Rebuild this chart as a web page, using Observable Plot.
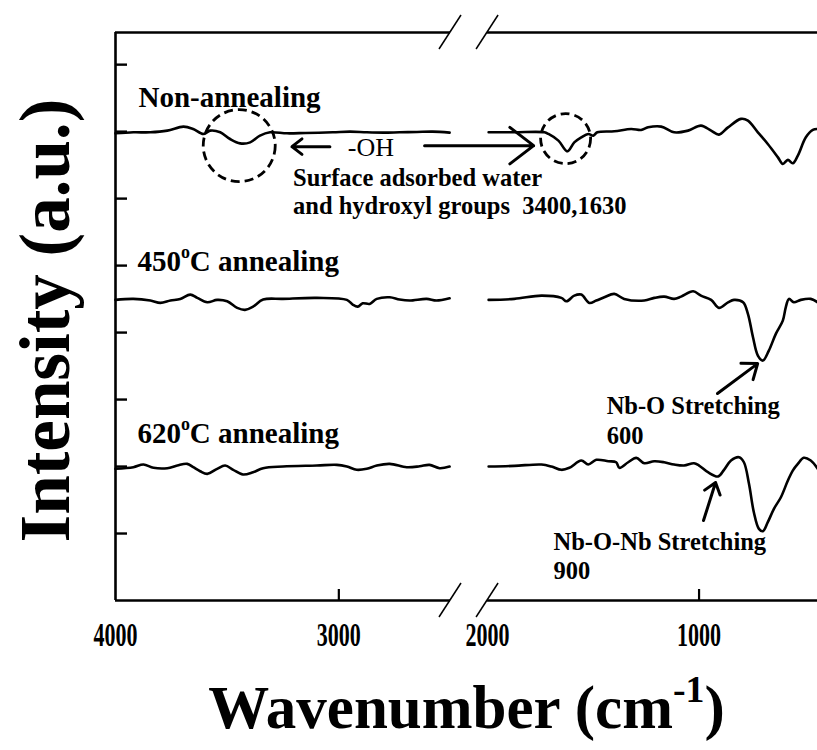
<!DOCTYPE html>
<html><head><meta charset="utf-8">
<script src="https://cdn.jsdelivr.net/npm/d3@7"></script>
<script src="https://cdn.jsdelivr.net/npm/@observablehq/plot@0.6"></script>
<style>
html,body{margin:0;padding:0;background:#fff;}
#chart svg{display:block;}
</style></head><body><div id="chart"></div>
<script>
// ---------- data ----------
const xTicks = [4000, 3000, 2000, 1000];
const yTicks = [1, 2, 3, 4, 5, 6, 7, 8];
const axisBreak = [2500, 2000];          // wavenumbers where the x axis is broken
const xExtent = [4000, 440];
const yExtent = [0, 8.48];

const seriesNames = ["Non-annealing", "450°C annealing", "620°C annealing"];
const seriesLabelAt = [[3897, 7.373], [3902, 4.925], [3902, 2.358]];

const nonAnnealLeft = [[4000,6.975],[3920,6.99],[3844,6.99],[3768,7.015],[3696,7.075],[3652,7.04],[3607,6.965],[3576,7.015],[3531,6.99],[3487,6.89],[3442,6.825],[3397,6.84],[3353,6.94],[3308,6.99],[3232,6.975],[3150,6.98],[3027,6.99],[2950,7.0],[2875,6.99],[2800,6.985],[2728,6.99],[2650,6.995],[2580,7.0],[2504,6.985]];
const nonAnnealRight = [[1995,6.99],[1873,6.99],[1731,6.99],[1712,6.965],[1665,6.866],[1623,6.706],[1590,6.84],[1557,6.915],[1524,6.965],[1500,6.94],[1481,6.99],[1401,7.005],[1321,7.04],[1274,7.025],[1241,7.064],[1179,7.075],[1118,6.99],[1052,7.015],[991,7.09],[943,7.015],[906,6.955],[863,7.064],[802,7.19],[769,7.164],[722,6.99],[675,6.816],[627,6.616],[604,6.518],[580,6.578],[557,6.527],[533,6.642],[495,6.915],[462,7.025],[439,7.04]];
const anneal450Left = [[4000,4.488],[3920,4.503],[3844,4.478],[3799,4.443],[3754,4.478],[3710,4.503],[3665,4.567],[3634,4.518],[3589,4.452],[3545,4.488],[3500,4.467],[3455,4.369],[3420,4.339],[3384,4.388],[3339,4.493],[3250,4.503],[3098,4.518],[2964,4.488],[2938,4.418],[2915,4.388],[2893,4.437],[2862,4.428],[2830,4.503],[2772,4.527],[2728,4.493],[2683,4.478],[2607,4.503],[2563,4.478],[2504,4.512]];
const anneal450Right = [[1995,4.488],[1873,4.503],[1745,4.552],[1651,4.518],[1627,4.467],[1590,4.552],[1557,4.567],[1519,4.443],[1486,4.478],[1448,4.527],[1401,4.578],[1354,4.503],[1259,4.478],[1212,4.518],[1165,4.537],[1118,4.503],[1085,4.537],[1028,4.616],[991,4.552],[943,4.488],[906,4.369],[863,4.452],[835,4.488],[792,4.452],[769,4.279],[745,3.930],[722,3.657],[698,3.582],[670,3.731],[637,3.981],[604,4.179],[590,4.378],[575,4.503],[552,4.452],[519,4.488],[472,4.503],[439,4.452]];
const anneal620Left = [[4000,1.966],[3920,1.990],[3875,2.030],[3830,1.981],[3768,1.975],[3723,2.015],[3679,2.040],[3652,1.990],[3621,1.930],[3589,1.891],[3545,1.966],[3509,2.015],[3473,1.951],[3429,1.881],[3384,1.915],[3339,1.975],[3250,2.0],[3098,2.015],[3009,2.025],[2964,2.0],[2920,1.951],[2875,1.966],[2830,2.015],[2772,2.040],[2696,1.990],[2638,2.004],[2594,2.025],[2549,1.975],[2504,2.0]];
const anneal620Right = [[1995,2.0],[1873,2.010],[1745,2.030],[1698,2.0],[1651,1.951],[1613,1.981],[1557,2.090],[1524,2.030],[1486,2.100],[1429,2.079],[1392,2.064],[1377,1.981],[1335,2.064],[1297,2.130],[1259,2.049],[1212,2.079],[1165,2.064],[1118,2.030],[1071,2.015],[1024,2.049],[1000,2.015],[958,1.915],[910,1.851],[882,1.951],[849,2.090],[811,2.139],[788,2.064],[764,1.742],[741,1.318],[717,1.070],[698,1.034],[675,1.169],[646,1.369],[613,1.542],[580,1.791],[557,1.940],[533,2.040],[505,2.130],[472,2.090],[439,1.966]];

const noteTexts = ["Surface adsorbed water", "and hydroxyl groups\u00a0\u00a03400,1630", "Nb-O Stretching", "600", "Nb-O-Nb Stretching", "900"];
const noteAt = [[3205,6.194],[3205,5.776],[1437,2.791],[1437,2.343],[1688,0.761],[1688,0.328]];
const ohText = "-OH";
const ohAt = [2960, 6.642];
const arrowsFromTo = [[3040,6.776,3210,6.776],[2616,6.791,1782,6.791],[913,3.090,723,3.537],[979,1.194,922,1.761]];
const circleAt = [[3446,6.791],[1631,6.896]];
const circleRadius = [36, 25];

// ---------- broken-axis mapping (wavenumber -> axis units) ----------
const leftSpan = xExtent[0] - axisBreak[0];
const gapUnits = 166;        // width of the break, in left-segment units
const rightRatio = 0.947;    // right segment is drawn slightly more compressed
const brk = w => w >= axisBreak[0] ? xExtent[0] - w
  : w > axisBreak[1] ? leftSpan + gapUnits * (axisBreak[0] - w) / (axisBreak[0] - axisBreak[1])
  : leftSpan + gapUnits + (axisBreak[1] - w) * rightRatio;

// ---------- tables ----------
const segments = [
  [0, "L", nonAnnealLeft], [0, "R", nonAnnealRight],
  [1, "L", anneal450Left], [1, "R", anneal450Right],
  [2, "L", anneal620Left], [2, "R", anneal620Right]
];
const points = segments.flatMap(([s, side, arr]) => arr.map(([w, v]) => ({key: seriesNames[s] + side, w, v})));
const seriesLabels = seriesNames.map((t, i) => ({t, x: seriesLabelAt[i][0], y: seriesLabelAt[i][1]}));
const notes = noteTexts.map((t, i) => ({t, x: noteAt[i][0], y: noteAt[i][1]}));
const arrows = arrowsFromTo.map(([x1, y1, x2, y2]) => ({x1, y1, x2, y2}));
const circles = circleAt.map(([x, y], i) => ({x, y, r: circleRadius[i]}));
const axisSegs = [{x1: xExtent[0], x2: axisBreak[0]}, {x1: axisBreak[1], x2: xExtent[1]}];
const xTickMarks = xTicks.filter(t => t !== xExtent[0] && !axisBreak.includes(t));

const W = 817, H = 750, ML = 115, MR = 0, MT = 32, MB = 150;
const frameW = W - ML - MR, frameH = H - MT - MB;

function breakSlashes(index, scales) {
  const g = d3.create("svg:g").attr("stroke", "black").attr("stroke-width", 1.5);
  for (const w of axisBreak) for (const v of yExtent) {
    const cx = scales.x(brk(w)), cy = scales.y(v);
    g.append("line").attr("x1", cx - 11).attr("y1", cy + 17).attr("x2", cx + 11).attr("y2", cy - 17);
  }
  return g.node();
}

const serif = "'Liberation Serif','Times New Roman',serif";
const chart = Plot.plot({
  width: W, height: H,
  marginLeft: ML, marginRight: MR, marginTop: MT, marginBottom: MB,
  style: {fontFamily: serif, background: "white", color: "black"},
  x: {domain: [brk(xExtent[0]), brk(xExtent[1])], axis: null},
  y: {domain: yExtent, axis: null},
  r: {type: "identity"},
  marks: [
    // frame
    Plot.ruleX([xExtent[0]], {x: d => brk(d), strokeWidth: 2.6}),
    Plot.ruleY(axisSegs, {y: yExtent[0], x1: d => brk(d.x1), x2: d => brk(d.x2), strokeWidth: 2.6}),
    Plot.ruleY(axisSegs, {y: yExtent[1], x1: d => brk(d.x1), x2: d => brk(d.x2), strokeWidth: 2.6}),
    breakSlashes,
    Plot.tickY(yTicks, {y: d => d, insetRight: frameW - 12, strokeWidth: 2.4}),
    Plot.tickX(xTickMarks, {x: d => brk(d), insetTop: frameH - 11, strokeWidth: 2.2}),
    Plot.text(xTicks, {x: d => brk(d), text: d => String(d), frameAnchor: "bottom", textAnchor: "middle", dy: 45, lineAnchor: "bottom", fontSize: 34, fontWeight: "bold", className: "xtick"}),
    // spectra
    Plot.line(points, {x: d => brk(d.w), y: "v", z: "key", stroke: "black", strokeWidth: 2.6, curve: "catmull-rom"}),
    // annotations
    Plot.dot(circles, {x: d => brk(d.x), y: "y", r: "r", stroke: "black", fill: "none", strokeWidth: 2.8, strokeDasharray: "9,5"}),
    Plot.arrow(arrows, {x1: d => brk(d.x1), y1: "y1", x2: d => brk(d.x2), y2: "y2", stroke: "black", strokeWidth: 3, headLength: 15, headAngle: 75}),
    Plot.text(seriesLabels, {x: d => brk(d.x), y: "y", text: "t", textAnchor: "start", lineAnchor: "bottom", fontSize: 29, fontWeight: "bold"}),
    Plot.text(notes, {x: d => brk(d.x), y: "y", text: "t", textAnchor: "start", lineAnchor: "bottom", fontSize: 24.5, fontWeight: "bold"}),
    Plot.text([ohText], {x: brk(ohAt[0]), y: ohAt[1], text: d => d, textAnchor: "start", lineAnchor: "bottom", fontSize: 26}),
    // axis titles
    Plot.text(["Intensity (a.u.)"], {frameAnchor: "left", dx: -69, dy: 4, rotate: -90, textAnchor: "middle", lineAnchor: "middle", fontSize: 71, fontWeight: "bold"}),
    Plot.text(["Wavenumber (cm-1)"], {frameAnchor: "bottom", dy: 127, textAnchor: "middle", lineAnchor: "bottom", fontSize: 61, fontWeight: "bold"})
  ]
});
document.getElementById("chart").appendChild(chart);

// superscripts
function superscript(node, before, sup, after, size) {
  node.textContent = "";
  const ns = "http://www.w3.org/2000/svg";
  node.appendChild(document.createTextNode(before));
  const t = document.createElementNS(ns, "tspan");
  t.setAttribute("font-size", size * 0.62);
  t.setAttribute("dy", -size * 0.42);
  t.textContent = sup;
  node.appendChild(t);
  const t2 = document.createElementNS(ns, "tspan");
  t2.setAttribute("dy", size * 0.42);
  t2.textContent = after;
  node.appendChild(t2);
}
d3.select(chart).selectAll("text").each(function () {
  const s = this.textContent;
  const i = s.indexOf("°");
  if (i >= 0) superscript(this, s.slice(0, i), "o", s.slice(i + 1), 29);
  else if (s === "Wavenumber (cm-1)") superscript(this, "Wavenumber (cm", "-1", ")", 61);
});
// condensed digits as in the reference
d3.select(chart).selectAll(".xtick text").attr("textLength", 44).attr("lengthAdjust", "spacingAndGlyphs");
</script></body></html>
